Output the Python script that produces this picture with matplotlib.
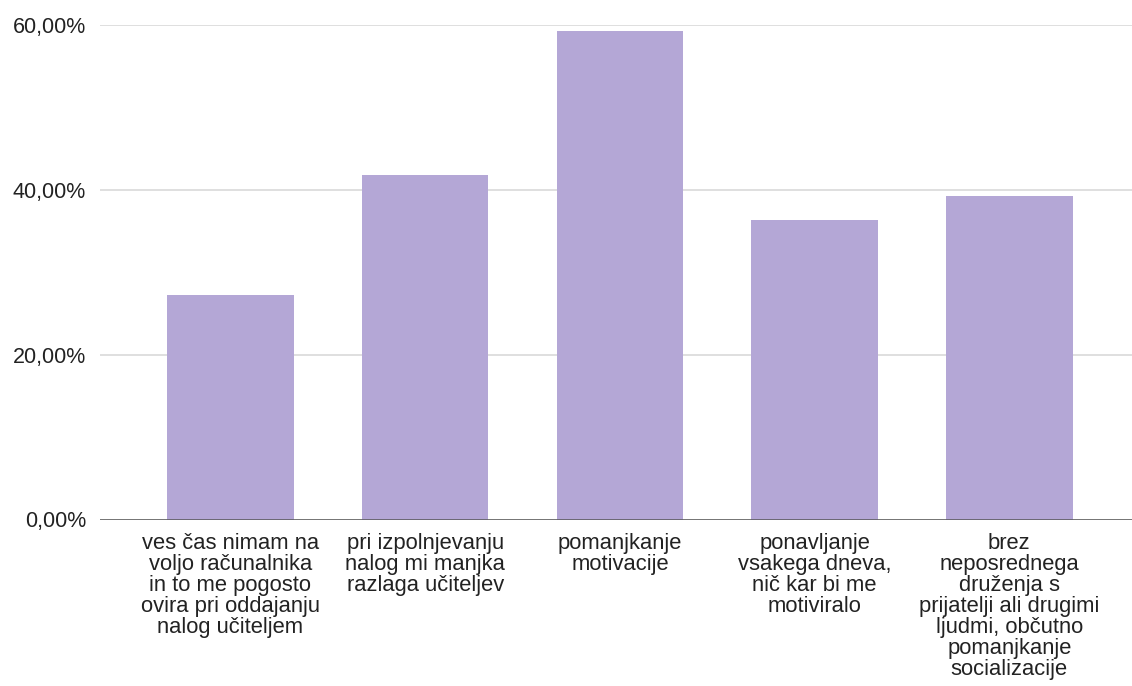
import matplotlib.pyplot as plt
import matplotlib as mpl
from matplotlib.ticker import FuncFormatter

mpl.rcParams['font.family'] = ['Liberation Sans', 'DejaVu Sans']

# podatki
labels = [
    "ves čas nimam na\nvoljo računalnika\nin to me pogosto\novira pri oddajanju\nnalog učiteljem",
    "pri izpolnjevanju\nnalog mi manjka\nrazlaga učiteljev",
    "pomanjkanje\nmotivacije",
    "ponavljanje\nvsakega dneva,\nnič kar bi me\nmotiviralo",
    "brez\nneposrednega\ndruženja s\nprijatelji ali drugimi\nljudmi, občutno\npomanjkanje\nsocializacije",
]
values = [27.3, 41.8, 59.3, 36.4, 39.3]
yticks = [0, 20, 40, 60]

W, H = 1132, 686
fig = plt.figure(figsize=(W / 100, H / 100), dpi=100)
ax = fig.add_axes([100 / W, 1 - 519.5 / H, 1 - 100 / W, (519.5 - 25) / H])

X = range(len(values))
ax.bar(X, values, width=0.65, color='#b4a7d6', zorder=2)

ax.set_xlim(-0.67, 4.63)
ax.set_ylim(0, 60)
ax.set_yticks(yticks)
ax.yaxis.set_major_formatter(FuncFormatter(lambda v, p: ('%.2f%%' % v).replace('.', ',')))
ax.grid(axis='y', color='#d9d9d9', linewidth=1.2, zorder=0)
ax.axhline(0, color='#555555', linewidth=1.8, zorder=3)

ax.set_xticks(list(X))
ax.set_xticklabels(labels, fontsize=15.8, color='#222222', linespacing=1.0, va='top')
ax.tick_params(axis='x', length=0, pad=10)
ax.tick_params(axis='y', length=0, pad=10, labelsize=15.5, labelcolor='#222222')

for s in ax.spines.values():
    s.set_visible(False)

plt.savefig('out.png', dpi=100)
